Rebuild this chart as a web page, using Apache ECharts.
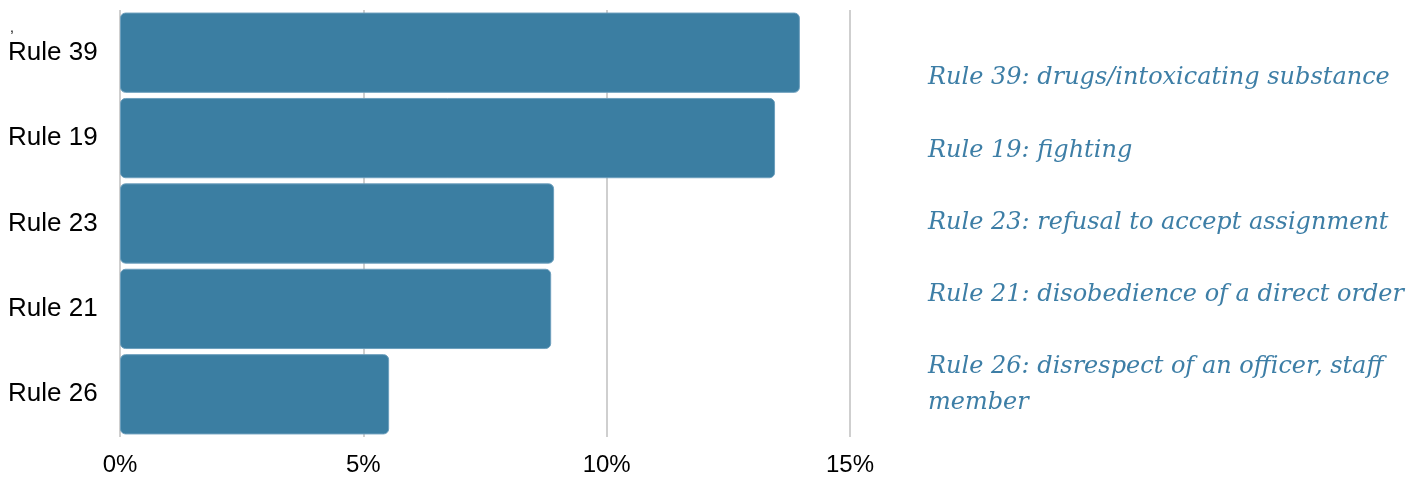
<!DOCTYPE html>
<html>
<head>
<meta charset="utf-8">
<script src="https://cdn.jsdelivr.net/npm/echarts@6/dist/echarts.min.js"></script>
<style>
  html, body { margin: 0; padding: 0; background: #fff; }
  #chart { width: 1413px; height: 477px; }
</style>
</head>
<body>
<div id="chart"></div>
<script>
  // data
  const rules = ['Rule 39', 'Rule 19', 'Rule 23', 'Rule 21', 'Rule 26'];
  const shares = [13.97, 13.46, 8.92, 8.86, 5.53];
  const notes = [
    'Rule 39: drugs/intoxicating substance',
    'Rule 19: fighting',
    'Rule 23: refusal to accept assignment',
    'Rule 21: disobedience of a direct order',
    'Rule 26: disrespect of an officer, staff\nmember'
  ];
  const noteTops = [60, 133, 205, 277, 349];

  const chart = echarts.init(document.getElementById('chart'));

  const noteText = notes.map((t, i) => ({
    type: 'text',
    left: 928,
    top: noteTops[i],
    style: {
      text: t,
      fill: '#3d7ea6',
      font: 'italic 24px "DejaVu Serif", serif',
      lineHeight: 36
    }
  }));

  let option = {
    title: {
      text: ',',
      left: 5,
      top: 16,
      textStyle: { fontSize: 14, fontWeight: 'normal', color: '#000', fontFamily: 'Liberation Sans' }
    },
    grid: {
      left: 120,
      right: 563,
      top: 10,
      bottom: 38
    },
    xAxis: {
      type: 'value',
      min: 0,
      max: 15,
      interval: 5,
      axisLine: { show: false },
      axisTick: { show: false },
      splitLine: { lineStyle: { color: '#cfcfcf', width: 2 } },
      axisLabel: {
        formatter: '{value}%',
        color: '#000',
        fontSize: 24,
        fontFamily: 'Liberation Sans',
        margin: 16
      }
    },
    yAxis: {
      type: 'category',
      inverse: true,
      data: rules,
      axisLine: { show: false },
      axisTick: { show: false },
      axisLabel: {
        align: 'left',
        margin: 112,
        color: '#000',
        fontSize: 26,
        fontFamily: 'Liberation Sans'
      }
    },
    series: [
      {
        type: 'bar',
        data: shares,
        barCategoryGap: '6%',
        itemStyle: {
          color: '#3b7ea2',
          borderColor: '#6d9fbd',
          borderWidth: 1,
          borderRadius: 5
        }
      }
    ],
    graphic: noteText
  };

  chart.setOption(option);
</script>
</body>
</html>
